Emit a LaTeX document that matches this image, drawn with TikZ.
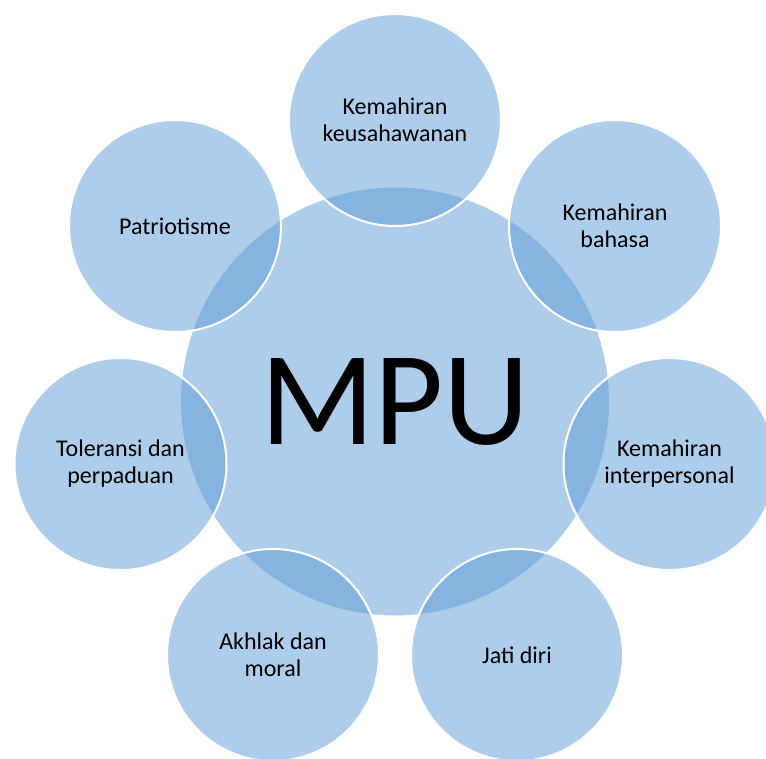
\documentclass[tikz,border=0pt]{standalone}
\usepackage{fontspec}
\setmainfont{Carlito}
\definecolor{bubble}{RGB}{91,155,213}

\begin{document}
\begin{tikzpicture}[x=1pt, y=-1pt,
                    every node/.style = {shape=circle, draw=white,
                        line width=2pt, fill=bubble, fill opacity=0.5,
                        text opacity=1, align=center, inner sep=0pt},
                    hub/.style = {minimum size=430pt,
                        font=\fontsize{134}{134}\selectfont},
                    skill/.style = {minimum size=212pt,
                        font=\fontsize{24}{27}\selectfont}]
        \useasboundingbox (0,0) rectangle (766,758);

        \node[hub] (mpu) at (395,401.5) {MPU};

        \node[skill] (keusahawanan) at (395,120) {Kemahiran\\keusahawanan};
        \node[skill] (bahasa) at (615,226) {Kemahiran\\bahasa};
        \node[skill] (interpersonal) at (669.5,464) {Kemahiran\\interpersonal};
        \node[skill] (jatidiri) at (517,655) {Jati diri};
        \node[skill] (akhlak) at (273,655) {Akhlak dan\\moral};
        \node[skill] (toleransi) at (120.5,464) {Toleransi dan\\perpaduan};
        \node[skill] (patriotisme) at (175,226) {Patriotisme};

\end{tikzpicture}
\end{document}
